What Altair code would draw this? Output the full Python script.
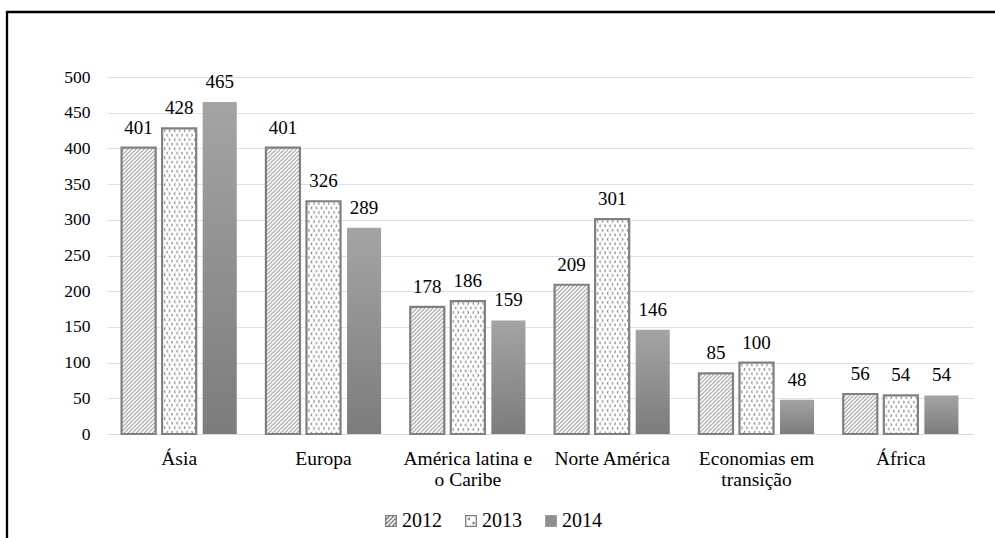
import base64
import altair as alt
import pandas as pd

# ---------------- data ----------------
regions = ["Ásia", "Europa", "América latina e\no Caribe", "Norte América",
           "Economias em\ntransição", "África"]
years = ["2012", "2013", "2014"]
v2012 = [401, 401, 178, 209, 85, 56]
v2013 = [428, 326, 186, 301, 100, 54]
v2014 = [465, 289, 159, 146, 48, 54]
y_ticks = [0, 50, 100, 150, 200, 250, 300, 350, 400, 450, 500]

rows = []
for i, r in enumerate(regions):
    for yr, vals in zip(years, [v2012, v2013, v2014]):
        rows.append({"region": r, "year": yr, "value": vals[i]})
df = pd.DataFrame(rows)

# ---------------- styles ----------------
FONT = "Liberation Serif"


def svg_url(svg):
    return "data:image/svg+xml;base64," + base64.b64encode(svg.encode("utf-8")).decode("ascii")


hatch_svg = (
    '<svg xmlns="http://www.w3.org/2000/svg" width="100%" height="100%">'
    '<defs><pattern id="h" width="4" height="4" patternUnits="userSpaceOnUse">'
    '<rect width="4" height="4" fill="white"/>'
    '<path d="M-1,1 L1,-1 M0,4 L4,0 M3,5 L5,3" stroke="#858585" stroke-width="0.9"/>'
    '</pattern></defs><rect width="100%" height="100%" fill="url(#h)"/></svg>'
)


def chev(cx, cy, left):
    s = 0.75 if left else -0.75
    return f"M{cx + s},{cy - 1.2} L{cx - s},{cy} L{cx + s},{cy + 1.2} "


dots_path = (chev(2.5, 2.25, True) + chev(7.5, 2.25, False) +
             chev(0, 6.75, False) + chev(10, 6.75, False) + chev(5, 6.75, True))
dots_svg = (
    '<svg xmlns="http://www.w3.org/2000/svg" width="100%" height="100%">'
    '<defs><pattern id="d" width="10" height="9" patternUnits="userSpaceOnUse">'
    '<rect width="10" height="9" fill="white"/>'
    f'<path d="{dots_path}" stroke="#3a3a3a" stroke-width="0.8" fill="none"/>'
    '</pattern></defs><rect width="100%" height="100%" fill="url(#d)"/></svg>'
)
hatch_url = svg_url(hatch_svg)
dots_url = svg_url(dots_svg)

grad2014 = alt.LinearGradient(
    gradient="linear",
    stops=[alt.GradientStop(color="#a4a4a4", offset=0),
           alt.GradientStop(color="#7c7c7c", offset=1)],
    x1=0, x2=0, y1=0, y2=1,
)

sq = "M-1,-1H1V1H-1Z"
shape_2012 = sq + " M-1,-0.2L-0.2,-1 M-1,0.6L0.6,-1 M-0.6,1L1,-0.6 M0.2,1L1,0.2"
shape_2013 = sq + " M-0.2,-0.6L-0.5,-0.4L-0.2,-0.2 M0.3,0.2L0.6,0.4L0.3,0.6"
shape_2014 = sq

# ---------------- encodings ----------------
x_enc = alt.X(
    "region:N", sort=regions,
    scale=alt.Scale(paddingInner=0.157, paddingOuter=0.0785),
    axis=alt.Axis(title=None, labelAngle=0, ticks=False, labelPadding=15,
                  labelFont=FONT, labelFontSize=19.5, labelColor="black",
                  labelLineHeight=21, domainColor="#d9d9d9", domainWidth=1,
                  labelExpr="split(datum.label, '\\n')"),
)
xo_enc = alt.XOffset("year:N", sort=years,
                     scale=alt.Scale(paddingInner=0.16, paddingOuter=0.08))
y_enc = alt.Y(
    "value:Q",
    scale=alt.Scale(domain=[0, 500], nice=False),
    axis=alt.Axis(title=None, values=y_ticks, ticks=False, domain=False,
                  labelPadding=17, labelFont=FONT, labelFontSize=17.5,
                  labelColor="black", gridColor="#dde1ea", gridWidth=1),
)

base = alt.Chart(df)

frame = alt.Chart(pd.DataFrame({"k": [0]})).mark_rect(
    fillOpacity=0, stroke="black", strokeWidth=2.3
).encode(x=alt.value(-100), x2=alt.value(1010), y=alt.value(-65), y2=alt.value(600))

img12 = base.transform_filter("datum.year == '2012'").mark_image(aspect=False).encode(
    x=x_enc, xOffset=xo_enc, y=y_enc, y2=alt.datum(0), url=alt.value(hatch_url))
img13 = base.transform_filter("datum.year == '2013'").mark_image(aspect=False).encode(
    x=x_enc, xOffset=xo_enc, y=y_enc, y2=alt.datum(0), url=alt.value(dots_url))

outline = base.transform_filter("datum.year != '2014'").mark_bar(
    fillOpacity=0, stroke="#808080", strokeWidth=2.2
).encode(x=x_enc, xOffset=xo_enc, y=y_enc)

bars14 = base.transform_filter("datum.year == '2014'").mark_bar(
    fill=grad2014
).encode(x=x_enc, xOffset=xo_enc, y=y_enc)

leg = alt.Legend(title=None, orient="none", legendX=274, legendY=434,
                 direction="horizontal", symbolSize=112, symbolStrokeWidth=1.3,
                 symbolOpacity=1, labelFont=FONT, labelFontSize=20,
                 labelColor="black", labelOffset=1, columnPadding=19, padding=0)

legend_layer = base.mark_point(filled=True, opacity=0).encode(
    x=x_enc, xOffset=xo_enc, y=y_enc,
    fill=alt.Fill("year:N", sort=years,
                  scale=alt.Scale(domain=years, range=["white", "white", "#8e8e8e"]),
                  legend=leg),
    stroke=alt.Stroke("year:N", sort=years,
                      scale=alt.Scale(domain=years, range=["#7a7a7a", "#7a7a7a", "#9a9a9a"]),
                      legend=leg),
    shape=alt.Shape("year:N", sort=years,
                    scale=alt.Scale(domain=years, range=[shape_2012, shape_2013, shape_2014]),
                    legend=leg),
)

labels = base.mark_text(font=FONT, fontSize=19, baseline="alphabetic", dy=-14,
                        color="black").encode(
    x=x_enc, xOffset=xo_enc, y=y_enc, text=alt.Text("value:Q"))

chart = alt.layer(frame, img12, img13, outline, bars14, legend_layer, labels).properties(
    width=866, height=357,
    autosize=alt.AutoSizeParams(type="none"),
    padding={"left": 107, "top": 77, "right": 22, "bottom": 104},
    background="white",
).configure_view(stroke=None)

chart.save("out.html", embed_options={"renderer": "svg", "actions": False})
